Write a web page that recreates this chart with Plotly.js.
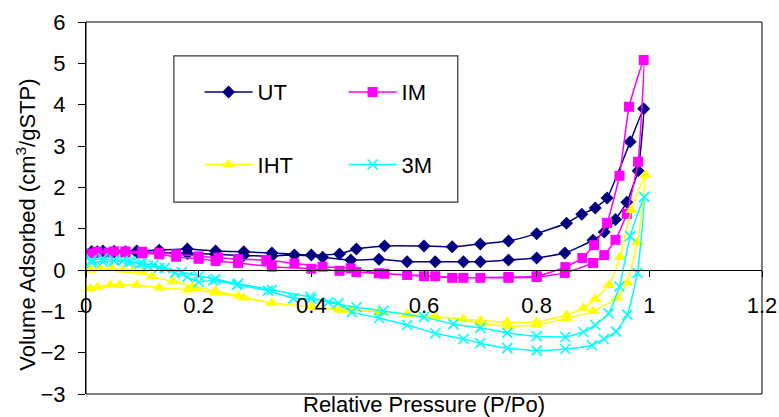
<!DOCTYPE html>
<html>
<head>
<meta charset="utf-8">
<script src="https://cdn.plot.ly/plotly-3.0.1.min.js"></script>
<style>html,body{margin:0;padding:0;background:#fff;}#chart{width:779px;height:417px;}</style>
</head>
<body>
<div id="chart"></div>
<script>
// ---- data ----
var seriesNames = ["UT", "IM", "IHT", "3M"];

var utX = [0.01,0.03,0.05,0.07,0.09,0.13,0.18,0.23,0.28,0.33,0.37,0.42,0.47,0.52,0.57,0.62,0.67,0.70,0.75,0.80,0.85,0.90,0.92,0.94,0.96,0.98,0.99,
           0.966,0.925,0.904,0.88,0.853,0.80,0.75,0.70,0.65,0.60,0.53,0.48,0.45,0.40,0.33,0.28,0.23,0.18,0.13,0.09,0.05,0.02];
var utY = [0.45,0.46,0.45,0.44,0.43,0.42,0.40,0.38,0.35,0.34,0.36,0.31,0.24,0.26,0.20,0.20,0.20,0.20,0.24,0.29,0.41,0.72,0.92,1.22,1.64,2.40,3.90,
           3.10,1.74,1.50,1.35,1.13,0.88,0.70,0.63,0.56,0.58,0.58,0.51,0.39,0.36,0.41,0.44,0.46,0.51,0.48,0.46,0.45,0.44];

var imX = [0.01,0.04,0.07,0.10,0.13,0.16,0.20,0.23,0.27,0.33,0.40,0.45,0.48,0.53,0.60,0.65,0.70,0.75,0.80,0.85,0.90,0.92,0.94,0.96,0.98,0.99,
           0.964,0.947,0.925,0.902,0.881,0.851,0.80,0.75,0.67,0.62,0.57,0.52,0.47,0.42,0.37,0.32,0.27,0.235,0.20,0.16,0.13,0.10,0.07,0.05,0.02];
var imY = [0.40,0.42,0.42,0.40,0.38,0.32,0.27,0.22,0.17,0.08,0.03,-0.02,-0.05,-0.09,-0.15,-0.19,-0.19,-0.19,-0.17,-0.07,0.17,0.36,0.73,1.36,2.62,5.08,
           3.95,2.28,1.14,0.60,0.29,0.07,-0.15,-0.17,-0.19,-0.15,-0.12,-0.08,0.04,0.08,0.16,0.24,0.26,0.30,0.33,0.38,0.42,0.44,0.45,0.45,0.44];

var ihtX = [0.007,0.025,0.046,0.066,0.082,0.10,0.117,0.155,0.19,0.23,0.27,0.33,0.40,0.45,0.52,0.57,0.62,0.67,0.70,0.75,0.80,0.853,0.90,0.943,0.961,0.979,0.993,
            0.968,0.948,0.928,0.904,0.883,0.853,0.80,0.748,0.70,0.67,0.62,0.57,0.52,0.47,0.40,0.33,0.28,0.23,0.18,0.13,0.09,0.06,0.043,0.021,0.007];
var ihtY = [0.00,0.05,0.05,0.00,-0.02,-0.05,-0.16,-0.28,-0.40,-0.50,-0.62,-0.80,-0.89,-0.97,-1.01,-1.07,-1.13,-1.19,-1.30,-1.36,-1.33,-1.17,-1.00,-0.67,-0.30,0.67,2.30,
            1.45,0.31,-0.37,-0.70,-0.92,-1.09,-1.26,-1.26,-1.22,-1.19,-1.13,-1.07,-1.01,-0.97,-0.89,-0.80,-0.67,-0.55,-0.48,-0.43,-0.36,-0.36,-0.36,-0.41,-0.44];

var m3X = [0.01,0.03,0.05,0.065,0.08,0.095,0.11,0.13,0.158,0.18,0.20,0.226,0.268,0.323,0.368,0.40,0.448,0.472,0.52,0.57,0.62,0.67,0.70,0.748,0.80,0.851,0.898,0.919,0.941,0.961,0.979,0.991,
           0.966,0.947,0.928,0.904,0.883,0.851,0.80,0.748,0.70,0.652,0.60,0.528,0.48,0.43,0.398,0.33,0.27,0.23,0.20,0.17,0.14,0.12,0.10,0.075,0.05,0.03,0.01];
var m3Y = [0.24,0.28,0.24,0.22,0.20,0.15,0.10,0.05,-0.07,-0.17,-0.29,-0.25,-0.36,-0.50,-0.68,-0.70,-0.80,-1.02,-1.16,-1.33,-1.53,-1.67,-1.77,-1.89,-1.95,-1.91,-1.82,-1.67,-1.49,-1.08,-0.07,1.77,
           0.82,-0.40,-1.05,-1.33,-1.50,-1.62,-1.60,-1.52,-1.40,-1.31,-1.14,-0.99,-0.90,-0.78,-0.65,-0.48,-0.33,-0.22,-0.15,-0.05,0.05,0.12,0.16,0.20,0.22,0.20,0.18];

var xTickVals = [0, 0.2, 0.4, 0.6, 0.8, 1, 1.2];
var xTickText = ["0", "0.2", "0.4", "0.6", "0.8", "1", "1.2"];
var yTickVals = [-3, -2, -1, 0, 1, 2, 3, 4, 5, 6];

// ---- chart ----
var FONT = "Liberation Sans, Arial, sans-serif";
var FS = 22;
var lineShape = {shape: "spline", smoothing: 0.4, width: 1.5};

function mk(name, xs, ys, color, symbol, size, legendId, group) {
  var marker = {symbol: symbol, size: size, color: color};
  if (symbol === "x-thin") marker.line = {color: color, width: 1.6};
  return {
    type: "scatter", mode: "lines+markers", name: name, x: xs, y: ys,
    line: Object.assign({color: color}, lineShape), marker: marker,
    legend: legendId, legendgroup: group, cliponaxis: false
  };
}

var traces = [
  mk(seriesNames[0], utX, utY, "#000080", "diamond", 10, "legend", "a"),
  mk(seriesNames[1], imX, imY, "#FF00FF", "square", 10, "legend2", "c"),
  mk(seriesNames[2], ihtX, ihtY, "#FFFF00", "triangle-up", 11, "legend", "b"),
  mk(seriesNames[3], m3X, m3Y, "#00FFFF", "x-thin", 10, "legend2", "d")
];

var legendCommon = {
  xanchor: "left", yanchor: "top", bgcolor: "rgba(0,0,0,0)", borderwidth: 0,
  font: {family: FONT, size: FS, color: "#000"}, tracegroupgap: 41, itemwidth: 48,
  orientation: "v"
};

var layout = {
  width: 779, height: 417,
  margin: {l: 86, r: 17, t: 22, b: 23},
  paper_bgcolor: "#fff", plot_bgcolor: "#fff",
  font: {family: FONT, size: FS, color: "#000"},
  showlegend: true,
  legend: Object.assign({x: 0.168, y: 0.868}, legendCommon),
  legend2: Object.assign({x: 0.381, y: 0.868}, legendCommon),
  xaxis: {
    range: [0, 1.2], tickvals: xTickVals, ticktext: xTickText,
    anchor: "free", position: 1/3,
    showline: true, linecolor: "#000", linewidth: 1,
    ticks: "outside", ticklen: 6, tickcolor: "#000", ticklabelstandoff: 10,
    showgrid: false, zeroline: false,
    tickfont: {family: FONT, size: FS, color: "#000"}
  },
  yaxis: {
    range: [-3, 6], tickvals: yTickVals,
    showline: true, linecolor: "#000", linewidth: 1,
    ticks: "outside", ticklen: 7, tickcolor: "#000",
    showgrid: false, zeroline: false, ticklabelstandoff: 8,
    tickfont: {family: FONT, size: FS, color: "#000"}
  },
  shapes: [
    {type: "rect", xref: "paper", yref: "paper", x0: 0, x1: 1, y0: 0, y1: 1,
     line: {color: "#000", width: 1}, layer: "above"},
    {type: "rect", xref: "paper", yref: "paper", x0: 0.130, x1: 0.550, y0: 0.516, y1: 0.909,
     line: {color: "#333", width: 1.2}, layer: "below"}
  ],
  annotations: [
    {text: "Relative Pressure (P/Po)", xref: "paper", yref: "paper", x: 0.5, y: 0,
     xanchor: "center", yanchor: "top", yshift: 3, borderpad: 0, showarrow: false,
     font: {family: FONT, size: FS, color: "#000"}},
    {text: "Volume Adsorbed (cm<sup>3</sup>/gSTP)", xref: "paper", yref: "paper", x: 0, y: 0.455,
     xanchor: "center", yanchor: "middle", xshift: -60, textangle: -90, showarrow: false,
     font: {family: FONT, size: FS, color: "#000"}}
  ]
};

Plotly.newPlot("chart", traces, layout, {displayModeBar: false, staticPlot: true});
</script>
</body>
</html>
